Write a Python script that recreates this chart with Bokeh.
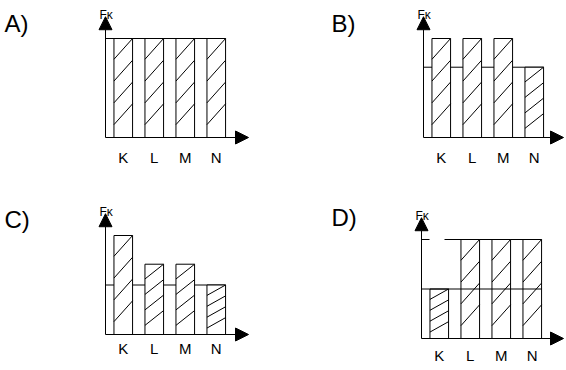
import numpy as np
from bokeh.plotting import figure
from bokeh.layouts import gridplot
from bokeh.models import Range1d, Arrow, NormalHead
from bokeh.core.properties import value
from bokeh.embed import file_html
from bokeh.resources import INLINE

# ---------------- data ----------------
categories = ["K", "L", "M", "N"]
panel_names = ["A)", "B)", "C)", "D)"]
axis_label = "Fκ"

values_A = [1.0, 1.0, 1.0, 1.0]
values_B = [1.0, 1.0, 1.0, 0.71]
values_C = [1.0, 0.71, 0.71, 0.5]
values_D = [0.5, 1.0, 1.0, 1.0]

# reference levels drawn behind the bars / over the bars
ref_back_A = [1.0]
ref_back_B = [0.71]
ref_back_C = [0.5]
ref_back_D = [1.0]
ref_front_A = []
ref_front_B = []
ref_front_C = []
ref_front_D = [0.5]

# ---------------- layout / style ----------------
W, H = 283, 185          # each panel figure
SX, SY = 31.0, 99.0      # px per category step, px per unit value
AXIS_X = -0.573          # y-axis position in category units
BAR_W = 0.6
Y_ARROW = 1.22
FONT = value("Liberation Sans")

# origin (axis crossing) inside each figure, label positions, arrow tip, tick label offset
LAYOUT = {
    "A)": dict(ox=105, oy=137, lx=4, ly=23, tip=248, tick=20, dash="solid"),
    "B)": dict(ox=140, oy=137, lx=48, ly=23, tip=280, tick=20, dash="solid"),
    "C)": dict(ox=105, oy=149, lx=4, ly=34, tip=248, tick=14, dash="solid"),
    "D)": dict(ox=138, oy=153, lx=48, ly=32, tip=280, tick=17, dash="8 15 400"),
}


def make_panel(name, vals, refs_back, refs_front):
    L = LAYOUT[name]
    xs = AXIS_X - L["ox"] / SX
    ytop = L["oy"] / SY
    p = figure(width=W, height=H, output_backend="svg", toolbar_location=None,
               x_range=Range1d(xs, xs + W / SX),
               y_range=Range1d(ytop - H / SY, ytop),
               x_axis_location=None, y_axis_location=None,
               min_border=0, outline_line_color=None,
               background_fill_color="white", border_fill_color="white")
    p.grid.visible = False

    idx = np.arange(len(categories), dtype=float)
    vals = np.asarray(vals, dtype=float)
    right_end = idx[-1] + BAR_W / 2

    # reference lines behind bars
    if refs_back:
        n = len(refs_back)
        p.segment(x0=[AXIS_X] * n, y0=refs_back, x1=[right_end] * n, y1=refs_back,
                  line_color="black", line_width=1, line_dash=L["dash"])

    # bars
    p.vbar(x=idx, top=vals, bottom=0, width=BAR_W,
           fill_color="white", line_color="black", line_width=1)

    # hatch lines, scaled to each bar's height
    hx0, hy0, hx1, hy1 = [], [], [], []
    for xi, v in zip(idx, vals):
        for k in range(4):
            y1 = v - k * 0.22 * v
            y0 = y1 - 0.21 * v
            hx0.append(xi - BAR_W / 2)
            hx1.append(xi + BAR_W / 2)
            hy0.append(y0)
            hy1.append(y1)
    p.segment(x0=hx0, y0=hy0, x1=hx1, y1=hy1, line_color="black", line_width=1)

    # reference lines over bars
    if refs_front:
        n = len(refs_front)
        p.segment(x0=[AXIS_X] * n, y0=refs_front, x1=[right_end] * n, y1=refs_front,
                  line_color="black", line_width=1)

    # axes with arrow heads
    x_tip = xs + L["tip"] / SX
    p.add_layout(Arrow(end=NormalHead(size=13, fill_color="black", line_color="black", line_width=1),
                       x_start=AXIS_X, y_start=0, x_end=AXIS_X, y_end=Y_ARROW,
                       line_color="black", line_width=1))
    p.add_layout(Arrow(end=NormalHead(size=13, fill_color="black", line_color="black", line_width=1),
                       x_start=AXIS_X, y_start=0, x_end=x_tip, y_end=0,
                       line_color="black", line_width=1))

    # texts
    p.text(x=[AXIS_X - 6 / SX], y=[Y_ARROW + 2 / SY], text=[axis_label],
           text_font=FONT, text_font_size="12px", text_color="black",
           text_align="left", text_baseline="alphabetic")
    p.text(x=idx, y=[-L["tick"] / SY] * len(idx), text=categories,
           text_font=FONT, text_font_size="15px", text_color="black",
           text_align="center", text_baseline="middle")
    p.text(x=[xs + L["lx"] / SX], y=[ytop - L["ly"] / SY], text=[name],
           text_font=FONT, text_font_size="24px", text_color="black",
           text_align="left", text_baseline="middle")
    return p


pA = make_panel("A)", values_A, ref_back_A, ref_front_A)
pB = make_panel("B)", values_B, ref_back_B, ref_front_B)
pC = make_panel("C)", values_C, ref_back_C, ref_front_C)
pD = make_panel("D)", values_D, ref_back_D, ref_front_D)

grid = gridplot([[pA, pB], [pC, pD]], toolbar_location=None)

open("out.html", "w").write(file_html(grid, INLINE))
